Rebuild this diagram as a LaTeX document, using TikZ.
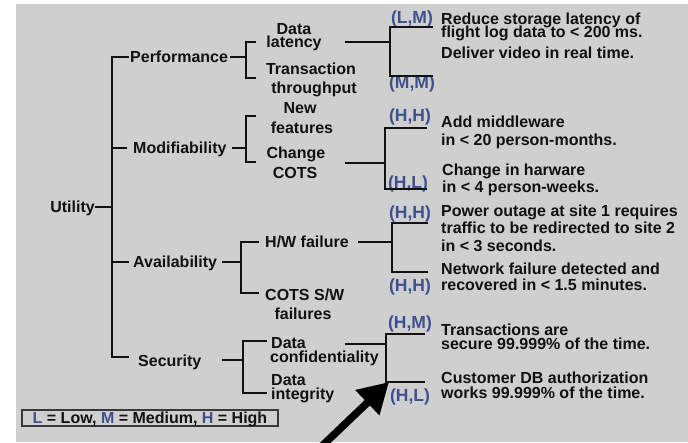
\documentclass[tikz,border=0pt]{standalone}
\usepackage{fontspec}
\setmainfont{Liberation Sans}
\usetikzlibrary{arrows.meta}
\definecolor{slide}{RGB}{207,207,207}
\definecolor{ink}{RGB}{17,17,17}
\definecolor{rate}{RGB}{62,80,142}
\definecolor{frame}{RGB}{55,55,55}

\begin{document}
\begin{tikzpicture}[x=1pt,y=-1pt,
  lbl/.style={inner sep=0pt, text height=11.5pt, text depth=0pt,
    font=\bfseries\fontsize{16}{16}\selectfont, text=ink},
  rating/.style={inner sep=0pt, text height=12.4pt, text depth=0pt,
    font=\bfseries\fontsize{17.5}{17.5}\selectfont, text=rate},
  desc/.style={lbl, anchor=west},
  branch/.style={line width=2.2pt, draw=ink},
  pointer/.style={line width=7.5pt, draw=black, -{Triangle[length=30pt,width=33pt]}}
]
\useasboundingbox (0,0) rectangle (688,442);
\fill[slide] (16,4) rectangle (688,442);

% ---------------- level 1 ----------------
\node[lbl, anchor=east] (util)  at (95,207)  {Utility};
\node[lbl, anchor=west] (perf)  at (130,57)  {Performance};
\node[lbl, anchor=west] (modi)  at (133,148) {Modifiability};
\node[lbl, anchor=west] (avail) at (133,262) {Availability};
\node[lbl, anchor=west] (secu)  at (138,361) {Security};

\coordinate (tk) at (112,0);
\coordinate (secJ) at (129,357);
\draw[branch] (util.east) -- (util.east -| tk);
\draw[branch] ([xshift=-1pt]perf.west) -- (perf.west -| tk) -- (tk |- secJ) -- (secJ);
\draw[branch] (tk |- modi.west) -- ([xshift=-6pt]modi.west);
\draw[branch] (tk |- avail.west) -- ([xshift=-4pt]avail.west);

% ---------------- level 2 ----------------
% Performance
\node[lbl] (p1a) at (294,29) {Data};
\node[lbl] (p1b) at (294,42) {latency};
\node[lbl] (p2a) at (311,69) {Transaction};
\node[lbl] (p2b) at (314,88) {throughput};
\coordinate (pb) at (246,0);
\coordinate (pbT) at (256,42);
\coordinate (pbB) at (256,78);
\draw[branch] ([xshift=2pt]perf.east) -- (perf.east -| pb);
\draw[branch] (pbT) -- (pbT -| pb) -- (pbB -| pb) -- (pbB);

% Modifiability
\node[lbl] (m1a) at (300,108) {New};
\node[lbl] (m1b) at (302,128) {features};
\node[lbl] (m2a) at (296,153) {Change};
\node[lbl] (m2b) at (295,173) {COTS};
\coordinate (mb) at (246,0);
\coordinate (mbT) at (256,116);
\coordinate (mbB) at (256,162);
\draw[branch] ([xshift=5pt]modi.east) -- (modi.east -| mb);
\draw[branch] (mbT) -- (mbT -| mb) -- (mbB -| mb) -- (mbB);

% Availability
\node[lbl, anchor=west] (a1)  at (265,242) {H/W failure};
\node[lbl, anchor=west] (a2a) at (265,295) {COTS S/W};
\node[lbl] (a2b) at (303,314) {failures};
\coordinate (ab) at (241,0);
\draw[branch] ([xshift=5pt]avail.east) -- (avail.east -| ab);
\draw[branch] ([xshift=-6pt]a1.west) -- (a1.west -| ab) -- ([yshift=2pt]a2a.west -| ab) -- ([xshift=-6pt,yshift=2pt]a2a.west);

% Security
\node[lbl, anchor=west] (s1a) at (271,343) {Data};
\node[lbl, anchor=west] (s1b) at (270,357) {confidentiality};
\node[lbl, anchor=west] (s2a) at (271,380) {Data};
\node[lbl, anchor=west] (s2b) at (271,394) {integrity};
\coordinate (sb) at (243,0);
\coordinate (sStub) at (222,360);
\coordinate (sT) at (267,341);
\coordinate (sB) at (267,393);
\draw[branch] (sStub) -- (sStub -| sb);
\draw[branch] (sT) -- (sT -| sb) -- (sB -| sb) -- (sB);

% ---------------- level 3: scenarios ----------------
% Data latency
\node[rating] (r1) at (412,17) {(L,M)};
\node[rating] (r2) at (412,82) {(M,M)};
\node[desc] (d1a) at (441,19) {Reduce storage latency of};
\node[desc] (d1b) at (441,32) {flight log data to < 200 ms.};
\node[desc] (d2)  at (441,53) {Deliver video in real time.};
\coordinate (qS) at (345,42);
\coordinate (qT) at (433,27);
\coordinate (qB) at (433,76);
\coordinate (qb) at (390,0);
\draw[branch] (qS) -- (qS -| qb);
\draw[branch] (qT) -- (qT -| qb) -- (qB -| qb) -- (qB);

% Change COTS
\node[rating] (r3) at (410,115) {(H,H)};
\node[rating] (r4) at (408,182) {(H,L)};
\node[desc] (d3a) at (441,122) {Add middleware};
\node[desc] (d3b) at (441,140) {in < 20 person-months.};
\node[desc] (d4a) at (442,170) {Change in harware};
\node[desc] (d4b) at (442,187) {in < 4 person-weeks.};
\coordinate (cS) at (345,163);
\coordinate (cT) at (427,128);
\coordinate (cB) at (427,189);
\coordinate (cb) at (385,0);
\draw[branch] (cS) -- (cS -| cb);
\draw[branch] (cT) -- (cT -| cb) -- (cB -| cb) -- (cB);

% H/W failure
\node[rating] (r5) at (410,212) {(H,H)};
\node[rating] (r6) at (410,285) {(H,H)};
\node[desc] (d5a) at (441,211) {Power outage at site 1 requires};
\node[desc] (d5b) at (441,228) {traffic to be redirected to site 2};
\node[desc] (d5c) at (441,246) {in < 3 seconds.};
\node[desc] (d6a) at (441,269) {Network failure detected and};
\node[desc] (d6b) at (441,285) {recovered in < 1.5 minutes.};
\coordinate (hT) at (428,223);
\coordinate (hB) at (428,272);
\coordinate (hb) at (392,0);
\draw[branch] ([xshift=9pt]a1.east) -- (hb |- a1.east);
\draw[branch] (hT) -- (hT -| hb) -- (hB -| hb) -- (hB);

% Data confidentiality
\node[rating] (r7) at (410,322) {(H,M)};
\node[rating] (r8) at (410,395) {(H,L)};
\node[desc] (d7a) at (441,330) {Transactions are};
\node[desc] (d7b) at (441,344) {secure 99.999\% of the time.};
\node[desc] (d8a) at (441,378) {Customer DB authorization};
\node[desc] (d8b) at (441,393) {works 99.999\% of the time.};
\coordinate (kS) at (345,344);
\coordinate (kT) at (425,334);
\coordinate (kB) at (425,382);
\coordinate (kb) at (386,0);
\draw[branch] (kS) -- (kS -| kb);
\draw[branch] (kT) -- (kT -| kb) -- (kB -| kb) -- (kB);

% ---------------- legend and pointer ----------------
\node[draw=frame, line width=1.3pt, fill=slide, inner sep=0pt,
      minimum width=256pt, minimum height=16pt, text height=11.5pt, text depth=0pt,
      font=\bfseries\fontsize{16}{16}\selectfont, text=ink] (key) at (150,418)
  {{\color{rate}L} = Low, {\color{rate}M} = Medium, {\color{rate}H} = High};

\coordinate (tail) at (322,446);
\coordinate (tip) at (389,382);
\draw[pointer] (tail) -- (tip);
\end{tikzpicture}
\end{document}
